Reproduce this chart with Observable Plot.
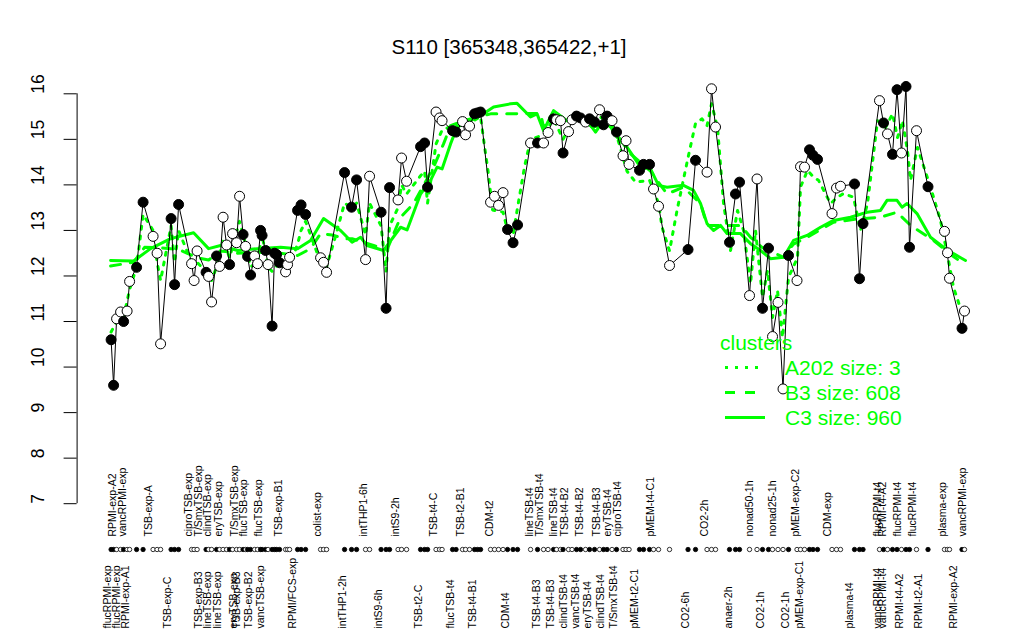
<!DOCTYPE html>
<html><head><meta charset="utf-8">
<script src="https://cdn.jsdelivr.net/npm/d3@7"></script>
<script src="https://cdn.jsdelivr.net/npm/@observablehq/plot@0.6"></script>
<style>
body{margin:0;background:#fff;font-family:"Liberation Sans",Arial,Helvetica,sans-serif;}
#wrap{position:relative;width:1024px;height:640px;overflow:hidden;}
#chart{position:absolute;left:0;top:0;}
#title{position:absolute;left:0;width:1018px;top:35px;text-align:center;font-size:20.5px;line-height:24px;color:#000;}
#legend{position:absolute;left:718px;top:330px;color:#00ff00;font-size:21px;}
#legend .row{height:25px;line-height:25px;display:flex;align-items:center;white-space:nowrap;}
#legend svg{display:block;flex:none;}
</style></head>
<body><div id="wrap"><div id="chart"></div><div id="title">S110 [365348,365422,+1]</div><div id="legend"></div></div>
<script>
// ---- data ----
const pointPos = [6.8,7.3,7.9,8.7,9.3,10.0,10.5,11.9,13.2,15.2,16.0,16.7,18.8,19.5,20.3,22.9,23.4,24.0,25.8,26.3,26.9,27.9,28.5,29.2,29.9,30.5,31.1,31.9,32.5,33.2,33.7,34.1,34.7,35.5,36.1,36.7,37.0,37.7,38.2,39.0,39.5,39.9,40.5,41.7,42.1,42.5,44.1,44.8,45.7,48.7,49.3,49.9,53.5,54.9,55.9,57.7,58.5,60.8,61.8,62.5,64.2,64.9,65.9,68.7,69.5,70.1,71.8,72.5,73.0,75.1,75.8,77.1,77.7,78.5,79.5,80.1,80.7,82.7,83.5,84.3,85.2,86.1,87.2,88.1,90.7,92.1,93.3,94.2,95.3,95.9,96.7,97.2,98.3,99.0,99.9,100.7,101.7,102.5,103.5,104.5,105.3,106.0,107.0,107.9,109.2,109.8,110.4,112.5,113.3,114.5,115.3,116.3,118.5,122.2,123.7,126.0,126.9,127.7,130.5,131.7,132.5,134.5,136.0,137.1,138.3,139.1,140.2,141.2,142.3,144.0,144.7,145.5,146.5,147.2,148.1,151.0,151.9,152.7,155.5,156.5,157.2,160.5,161.3,162.1,163.1,164.0,164.9,165.8,166.5,167.9,170.2,173.5,174.1,174.5,177.0,177.5];
const pointVal = [10.60,9.60,11.06,11.21,11.00,11.23,11.88,12.19,13.62,12.87,12.50,10.51,13.26,11.81,13.57,12.27,11.90,12.55,12.08,11.99,11.43,12.44,12.21,13.29,12.68,12.25,12.93,12.73,13.75,12.91,12.65,12.43,12.02,12.44,12.27,13.00,12.89,12.56,12.25,10.90,12.50,12.47,12.29,12.09,12.25,12.41,13.44,13.56,13.35,12.40,12.30,12.08,14.27,13.51,14.11,12.36,14.19,13.40,11.29,13.94,13.67,14.59,14.08,14.84,14.92,13.95,15.60,15.47,15.41,15.19,15.16,15.39,15.10,15.29,15.56,15.58,15.60,13.62,13.75,13.55,13.83,13.02,12.73,13.12,14.92,14.92,14.92,15.15,15.45,15.43,15.41,14.70,15.17,15.43,15.51,15.47,15.38,15.45,15.38,15.65,15.32,15.51,15.41,15.16,14.64,14.97,14.45,14.32,14.45,14.45,13.91,13.53,12.23,12.58,14.54,14.28,16.11,15.27,12.74,13.80,14.06,11.57,14.13,11.29,12.61,10.67,11.42,9.52,12.45,11.90,14.40,14.39,14.77,14.65,14.56,13.37,13.93,13.97,14.02,11.94,13.15,15.85,15.36,15.12,14.67,16.09,14.70,16.16,12.63,15.19,13.96,12.98,12.51,11.95,10.85,11.23];
const pointFilled = [1,1,0,0,1,0,0,1,1,0,0,0,1,1,1,0,0,0,1,0,0,1,0,0,0,1,0,0,0,1,0,1,1,0,0,1,1,1,0,1,1,1,1,0,0,0,1,1,1,0,0,0,1,1,1,0,0,1,1,1,0,0,0,1,1,1,0,0,0,1,1,0,0,0,1,1,1,0,0,0,0,1,1,1,0,1,0,0,1,0,0,1,0,0,1,1,0,1,1,0,1,1,0,1,0,0,0,1,1,1,0,0,0,1,1,0,0,0,1,1,1,0,0,1,1,0,0,0,1,0,0,0,1,1,1,0,0,0,1,1,1,0,1,0,1,1,0,1,1,0,1,0,0,0,1,0];

const a202Pos = [6.8,7.9,9.3,10.5,11.9,13.2,15.2,16.0,16.7,18.8,19.5,20.3,22.9,24.0,25.8,26.9,27.9,29.2,30.5,32.5,33.7,34.7,36.1,37.0,38.2,39.0,40.5,42.1,44.1,44.8,45.7,48.7,49.9,51.5,53.5,54.9,55.9,57.7,58.5,60.8,61.8,62.5,64.2,64.9,65.9,68.7,69.5,70.1,71.8,73.0,75.1,77.7,80.7,81.3,82.2,83.1,85.2,86.1,87.2,88.1,89.5,90.7,93.3,95.3,97.2,99.0,101.7,104.5,106.0,107.9,110.0,111.7,114.5,116.3,117.0,118.5,120.0,122.2,123.7,125.0,126.0,126.9,128.1,129.3,130.7,132.1,133.3,134.7,135.7,137.1,138.1,139.1,140.1,141.1,142.3,144.1,144.7,146.1,147.3,148.3,150.7,152.1,153.3,155.3,156.7,158.1,160.1,161.7,163.1,164.1,165.1,166.1,166.7,168.1,170.7,172.7,174.3,175.3,177.3];
const a202Val = [10.77,11.0,11.1,11.7,12.2,13.35,13.0,12.3,11.9,13.1,12.3,13.0,12.3,12.3,12.1,11.9,12.2,12.8,12.4,13.2,12.7,12.2,12.3,12.9,12.2,12.1,12.3,12.1,12.7,13.0,13.2,12.3,12.2,12.8,13.6,13.5,13.6,12.9,13.6,13.1,12.1,13.1,13.5,14.0,13.8,14.2,14.3,13.6,14.9,15.2,15.3,15.3,15.5,15.0,14.3,13.45,13.4,13.0,12.9,13.5,14.4,15.0,15.1,15.45,15.0,15.4,15.4,15.5,15.4,15.1,14.3,14.06,14.1,13.6,13.07,12.55,13.44,14.6,15.35,15.45,15.3,15.78,15.26,13.6,12.56,13.44,13.0,11.83,13.0,11.53,12.12,11.09,11.68,10.65,11.97,12.4,13.95,14.32,14.17,14.1,13.59,13.73,13.81,13.73,13.0,13.59,15.41,15.26,15.56,15.04,15.41,14.75,14.1,14.82,13.95,13.22,12.34,11.75,11.09];

const b3Pos = [6.7,11.3,13.5,16.0,18.7,21.0,24.0,26.3,28.7,32.1,36.1,40.7,44.1,46.7,48.7,51.0,53.5,55.0,59.3,62.0,64.7,67.3,71.3,73.3,74.7,77.3,82.7,86.7,90.0,92.7,93.3,95.3,100.7,103.0,106.7,108.0,110.7,114.7,118.0,121.3,124.7,126.0,132.7,134.7,137.0,141.3,143.3,146.0,151.3,156.0,160.7,164.0,166.7,171.3,175.0,177.3];
const b3Val = [12.22,12.3,12.63,12.62,12.6,12.55,12.4,12.35,12.55,12.5,12.52,12.5,12.45,12.6,12.93,12.9,12.82,12.82,12.67,12.58,13.29,13.59,14.39,14.9,15.3,15.41,15.56,15.56,15.57,15.57,15.27,15.49,15.49,15.27,15.35,15.1,14.68,14.3,13.8,13.95,13.59,13.11,13.11,12.85,12.63,12.41,12.7,12.85,13.18,13.25,13.29,13.4,13.11,12.78,12.45,12.27];

const c3Pos = [6.7,11.3,14.7,18.7,23.3,26.3,28.7,32.1,36.1,40.7,44.1,46.7,49.3,52.7,55.0,56.7,58.0,61.3,64.7,66.0,68.7,70.7,72.0,73.0,74.7,76.0,78.7,81.3,83.3,86.7,88.0,90.7,92.0,93.3,95.3,98.0,100.0,102.0,103.7,105.3,106.7,108.0,110.0,112.7,114.7,116.3,118.0,121.3,123.3,124.7,126.0,127.3,128.7,130.0,132.7,134.7,136.7,138.7,141.3,143.3,146.0,148.7,151.3,154.7,158.0,160.7,162.0,164.0,165.0,166.0,168.0,170.7,173.3,175.3,177.7];
const c3Val = [12.34,12.33,12.6,12.82,12.95,12.6,12.67,12.56,12.6,12.63,12.6,12.78,13.26,13.0,12.74,12.85,12.67,12.56,13.07,13.01,13.8,14.1,14.39,14.35,14.9,15.27,15.41,15.56,15.71,15.78,15.79,15.49,15.56,15.19,15.63,15.41,15.56,15.41,15.16,15.41,15.27,15.05,14.83,14.39,14.35,13.99,13.95,13.99,13.88,13.59,13.15,13.0,13.11,12.93,12.93,12.71,12.56,12.38,12.41,12.78,12.89,13.07,13.22,13.29,13.4,13.44,13.66,13.66,13.51,13.59,13.37,12.85,12.63,12.49,12.34];

const topLabelText = ["RPMI-exp-A2","vancRPMI-exp","TSB-exp-A","ciproTSB-exp","T/SmxTSB-exp","clindTSB-exp","eryTSB-exp","T/SmxTSB-exp","flucTSB-exp","flucTSB-exp","TSB-exp-B1","colist-exp","intTHP1-6h","intS9-2h","TSB-t4-C","TSB-t2-B1","CDM-t2","lineTSB-t4","T/SmxTSB-t4","lineTSB-t4","TSB-t4-B2","TSB-t4-B2","TSB-t4-B3","eryTSB-t4","ciproTSB-t4","pMEM-t4-C1","CO2-2h","nonad50-1h","nonad25-1h","pMEM-exp-C2","CDM-exp","flucRPMI-t4","RPMI-t4-A2","flucRPMI-t4","flucRPMI-t4","plasma-exp","vancRPMI-exp"];
const topLabelPos = [7.7,9.8,15.0,23.0,24.9,26.7,28.9,32.2,34.0,37.0,41.0,48.7,57.9,64.3,71.9,77.3,83.1,91.1,93.1,95.9,98.1,101.1,104.5,106.7,108.7,115.4,126.1,135.1,139.7,144.3,150.7,160.7,161.7,164.7,167.7,173.7,177.7];
const bottomLabelText = ["flucRPMI-exp","flucRPMI-exp","RPMI-exp-A1","TSB-exp-C","TSB-exp-B3","lineTSB-exp","lineTSB-exp","eryTSB-exp","TSB-exp-B3","TSB-exp-B2","vancTSB-exp","RPMI/FCS-exp","intTHP1-2h","intS9-6h","TSB-t2-C","flucTSB-t4","TSB-t4-B1","CDM-t4","TSB-t4-B3","TSB-t4-B3","clindTSB-t4","vancTSB-t4","eryTSB-t4","clindTSB-t4","T/SmxTSB-t4","pMEM-t2-C1","CO2-6h","anaer-2h","CO2-1h","CO2-1h","pMEM-exp-C1","plasma-t4","vancRPMI-t4","vancRPMI-t4","RPMI-t4-A2","RPMI-t2-A1","RPMI-exp-A2"];
const bottomLabelPos = [6.7,8.5,10.3,18.7,25.0,26.7,28.7,31.9,32.6,35.0,37.3,43.8,53.7,61.0,69.0,75.3,79.7,86.3,92.5,95.3,98.0,100.3,102.7,105.3,108.0,112.1,122.3,131.0,137.3,142.3,145.1,155.2,160.7,161.7,165.1,168.9,175.9];

const yTicks = [7,8,9,10,11,12,13,14,15,16];
const clusterNames = ["A202","B3","C3"];
const clusterSizes = [3,608,960];

// ---- build ----
const GREEN = "#00ff00";
const points = pointPos.map((x,i)=>({x, y: pointVal[i], fill: pointFilled[i] ? "black" : "white"}));
const a202 = a202Pos.map((x,i)=>({x, y: a202Val[i]}));
const b3 = b3Pos.map((x,i)=>({x, y: b3Val[i]}));
const c3 = c3Pos.map((x,i)=>({x, y: c3Val[i]}));
const topLabels = topLabelText.map((t,i)=>({x: topLabelPos[i], t}));
const bottomLabels = bottomLabelText.map((t,i)=>({x: bottomLabelPos[i], t}));
const xDomain = [0, 184.3];

const chart = Plot.plot({
  width: 1024, height: 640,
  marginLeft: 76.6, marginRight: 26, marginTop: 93.3, marginBottom: 136.8,
  x: {domain: xDomain, axis: null},
  y: {domain: [d3.min(yTicks), d3.max(yTicks)], axis: null},
  color: {type: "identity"},
  style: {fontFamily: "Liberation Sans, Arial, Helvetica, sans-serif", background: "white", overflow: "visible"},
  marks: [
    Plot.line(a202, {x: "x", y: "y", stroke: GREEN, strokeWidth: 3, strokeDasharray: "3,7"}),
    Plot.line(b3, {x: "x", y: "y", stroke: GREEN, strokeWidth: 3, strokeDasharray: "10,10"}),
    Plot.line(c3, {x: "x", y: "y", stroke: GREEN, strokeWidth: 3}),
    Plot.line(points, {x: "x", y: "y", stroke: "black", strokeWidth: 1}),
    Plot.dot(points, {x: "x", y: "y", r: 5, fill: "fill", stroke: "black", strokeWidth: 1}),
    Plot.dot(points, {x: "x", frameAnchor: "bottom", dy: 45.8, r: 2.2, fill: "fill", stroke: "black", strokeWidth: 0.8}),
    Plot.text(topLabels, {x: "x", text: "t", frameAnchor: "bottom", dy: 32.8, rotate: -90, textAnchor: "start", fontSize: 10.5, fill: "black"}),
    Plot.text(bottomLabels, {x: "x", text: "t", frameAnchor: "bottom", dy: 124.8, rotate: -90, textAnchor: "start", fontSize: 10.5, fill: "black"}),
    Plot.ruleX([xDomain[0]], {y1: d3.min(yTicks), y2: d3.max(yTicks), stroke: "black", strokeWidth: 1}),
    Plot.ruleY(yTicks, {y: d => d, x1: xDomain[0], x2: xDomain[0], insetLeft: -13, stroke: "black", strokeWidth: 1}),
    Plot.text(yTicks, {y: d => d, text: d => String(d), frameAnchor: "left", dx: -38.3, rotate: -90, fontSize: 17.5, fill: "black"})
  ]
});
document.getElementById("chart").appendChild(chart);

// ---- legend ----
const dashFor = {A202: "3,7", B3: "10,10", C3: null};
const lineEnd = {A202: 42, B3: 40, C3: 47};
const legend = d3.select("#legend");
legend.append("div").attr("class", "row").style("padding-left", "2px").text("clusters");
clusterNames.forEach((n, i) => {
  const row = legend.append("div").attr("class", "row");
  const svg = row.append("svg").attr("width", 67).attr("height", 25);
  svg.append("line").attr("x1", 7).attr("x2", lineEnd[n]).attr("y1", 12.5).attr("y2", 12.5)
    .attr("stroke", GREEN).attr("stroke-width", 3)
    .attr("stroke-dasharray", dashFor[n]);
  row.append("span").text(`${n} size: ${clusterSizes[i]}`);
});
</script>
</body></html>
